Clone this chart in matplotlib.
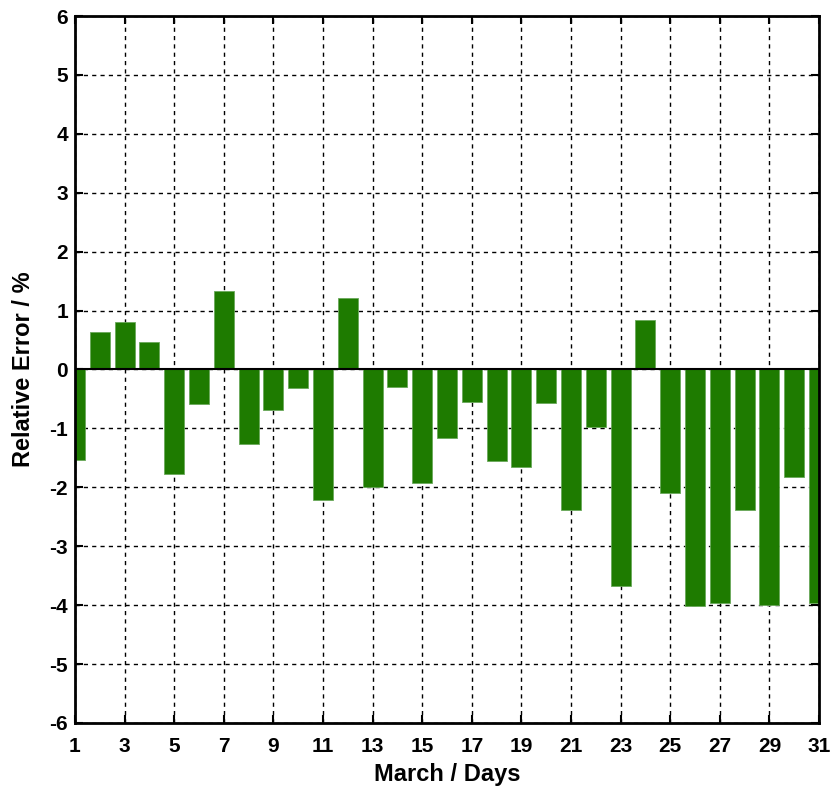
import matplotlib
matplotlib.use("Agg")
import matplotlib.pyplot as plt
import numpy as np

days = list(range(1, 32))
rel_error = [-1.54, 0.64, 0.81, 0.46, -1.77, -0.59, 1.34, -1.27, -0.69, -0.31,
             -2.22, 1.21, -2.00, -0.29, -1.93, -1.17, -0.55, -1.55, -1.66, -0.57,
             -2.39, -0.97, -3.67, 0.84, -2.10, -4.02, -3.97, -2.39, -4.00, -1.83,
             -3.97]
xticks = list(range(1, 32, 2))
yticks = list(range(-6, 7))

plt.rcParams['font.family'] = ['Liberation Sans', 'DejaVu Sans']
plt.rcParams['font.weight'] = 'bold'

fig = plt.figure(figsize=(8.35, 7.88), dpi=100)
ax = fig.add_axes([75/835, 1-723/788, (819-75)/835, (723-16)/788])

ax.bar(days, rel_error, width=0.8, color='#1e7b00', edgecolor='#6aa85a', linewidth=0.6, zorder=3)
ax.axhline(0, color='black', linewidth=1.5, zorder=4)

ax.set_xlim(1, 31)
ax.set_ylim(-6, 6)
ax.set_xticks(xticks)
ax.set_yticks(yticks)
ax.set_xticklabels([str(t) for t in xticks], fontsize=15, fontweight='bold')
ax.set_yticklabels([str(t) for t in yticks], fontsize=15, fontweight='bold')
ax.tick_params(direction='in', length=6, width=1.5, top=True, right=True)
ax.tick_params(axis='x', pad=10)
ax.tick_params(axis='y', pad=5)
ax.grid(True, color='black', linestyle=(0, (3, 3)), linewidth=1.0, zorder=1)
ax.set_axisbelow(True)
for s in ax.spines.values():
    s.set_linewidth(2)
    s.set_zorder(5)

ax.set_xlabel('March / Days', fontsize=17, fontweight='bold', labelpad=5)
ax.set_ylabel('Relative Error / %', fontsize=17, fontweight='bold', labelpad=10)

fig.savefig('out.png', dpi=100)
